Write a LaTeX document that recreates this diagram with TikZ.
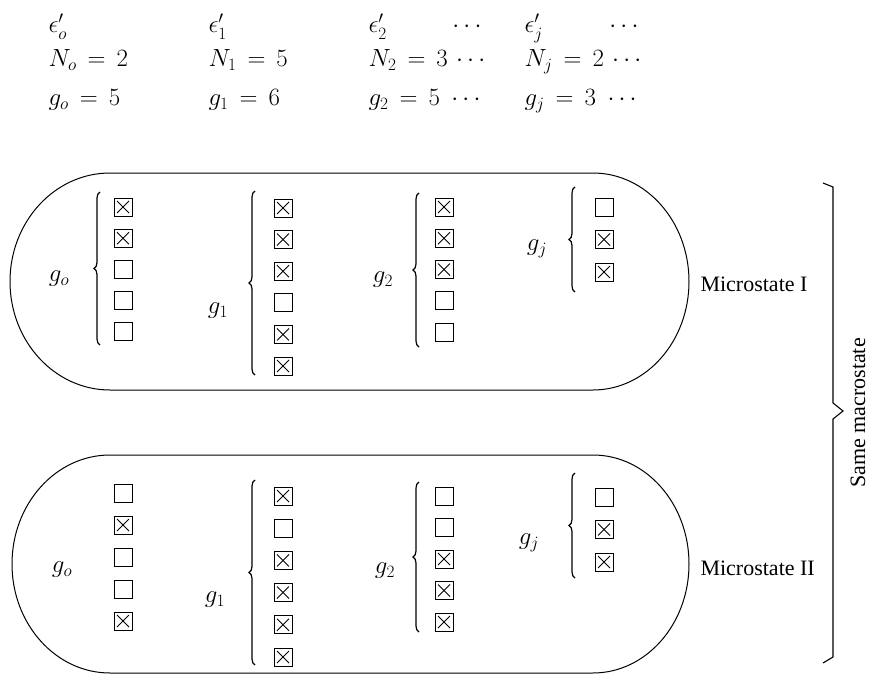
\documentclass[tikz,border=0pt]{standalone}
\usepackage[no-math]{fontspec}
\newfontfamily\lblfont{Liberation Serif}
\usetikzlibrary{decorations.pathreplacing}
\tikzset{
  cell/.style={draw, line width=0.9pt, minimum size=18pt, inner sep=0pt},
  cell0/.style={cell},
  cell1/.style={cell, path picture={
      \draw[line width=0.9pt] ([shift={(3pt,-3pt)}]path picture bounding box.north west) -- ([shift={(-3pt,3pt)}]path picture bounding box.south east);
      \draw[line width=0.9pt] ([shift={(-3pt,-3pt)}]path picture bounding box.north east) -- ([shift={(3pt,3pt)}]path picture bounding box.south west);}},
  brc/.style={decorate, decoration={brace, amplitude=6pt}, line width=1.2pt},
}
% one column of cells: name, x, first y, step, states
\newcommand{\cellcol}[5]{%
  \foreach \s [count=\i] in {#5}
    \node[cell\s] (#1\i) at (#2,{#3+#4*(\i-1)}) {};}

\begin{document}
\begin{tikzpicture}[x=1pt, y=-1pt,
    mth/.style={font=\fontsize{24}{28}\selectfont},
    txt/.style={font=\lblfont\fontsize{22}{26}\selectfont}]
  \useasboundingbox (0,0) rectangle (870,674);
  \def\yE{33} \def\yN{67} \def\yG{106}
  \node[mth, anchor=base west] (e0) at (45,\yE)  {$\epsilon'_o$};
  \node[mth, anchor=base west] (e1) at (205,\yE) {$\epsilon'_1$};
  \node[mth, anchor=base west] (e2) at (365,\yE) {$\epsilon'_2$};
  \node[mth, anchor=base east] (d2) at (485,\yE) {$\cdots$};
  \node[mth, anchor=base west] (ej) at (521,\yE) {$\epsilon'_j$};
  \node[mth, anchor=base east] (dj) at (642,\yE) {$\cdots$};
  \node[mth, anchor=base west] (n0) at (45,\yN)  {$N_o \,=\, 2$};
  \node[mth, anchor=base west] (n1) at (205,\yN) {$N_1 \,=\, 5$};
  \node[mth, anchor=base west] (n2) at (365,\yN) {$N_2 \,=\, 3 \, \cdots$};
  \node[mth, anchor=base west] (nj) at (521,\yN) {$N_j \,=\, 2 \, \cdots$};
  \node[mth, anchor=base west] (h0) at (45,\yG)  {$g_o \,=\, 5$};
  \node[mth, anchor=base west] (h1) at (205,\yG) {$g_1 \,=\, 6$};
  \node[mth, anchor=base west] (h2) at (365,\yG) {$g_2 \,=\, 5 \ \cdots$};
  \node[mth, anchor=base west] (hj) at (521,\yG) {$g_j \,=\, 3 \ \cdots$};

  % microstate I
  \draw[line width=1pt] (110,173) -- (593,173)
    arc[start angle=-90, end angle=90, x radius=96, y radius=108.5] -- (110,390)
    arc[start angle=90, end angle=270, x radius=100, y radius=108.5] -- cycle;
  \cellcol{Ao}{123}{207}{31.2}{1,1,0,0,0}
  \cellcol{Aa}{283}{208}{31.6}{1,1,1,0,1,1}
  \cellcol{Ab}{444}{207}{31.3}{1,1,1,0,0}
  \cellcol{Aj}{604}{207}{32.5}{0,1,1}
  \draw[brc] (100,345) -- (100,192);
  \draw[brc] (255,375) -- (255,191);
  \draw[brc] (419,347) -- (419,193);
  \draw[brc] (575,292) -- (575,187);
  \node[mth] (Ago) at (59,279)  {$g_o$};
  \node[mth] (Aga) at (218,311) {$g_1$};
  \node[mth] (Agb) at (383,280) {$g_2$};
  \node[mth] (Agj) at (537,249) {$g_j$};
  \node[txt, anchor=west] (m1) at (697,284) {Microstate I};

  % microstate II
  \draw[line width=1pt] (110,455) -- (593,455)
    arc[start angle=-90, end angle=90, x radius=96, y radius=109] -- (110,673)
    arc[start angle=90, end angle=270, x radius=98, y radius=109] -- cycle;
  \cellcol{Bo}{123}{493}{32}{0,1,0,0,1}
  \cellcol{Ba}{283}{496}{32.2}{1,0,1,1,1,1}
  \cellcol{Bb}{444}{496}{31.5}{0,0,1,1,1}
  \cellcol{Bj}{604}{497}{32.5}{0,1,1}
  \draw[brc] (255,665) -- (255,480);
  \draw[brc] (419,632) -- (419,482);
  \draw[brc] (575,578) -- (575,473);
  \node[mth] (Bgo) at (62,570)  {$g_o$};
  \node[mth] (Bga) at (215,600) {$g_1$};
  \node[mth] (Bgb) at (385,571) {$g_2$};
  \node[mth] (Bgj) at (529,543) {$g_j$};
  \node[txt, anchor=west] (m2) at (697,568) {Microstate II};

  \draw[line width=1.1pt] (823,183) -- (833,187) -- (833,403) -- (843,411)
    -- (833,419) -- (833,657) -- (823,663);
  \node[txt, rotate=90, anchor=base, inner sep=0pt] (sm) at (865,413) {Same macrostate};
\end{tikzpicture}
\end{document}
